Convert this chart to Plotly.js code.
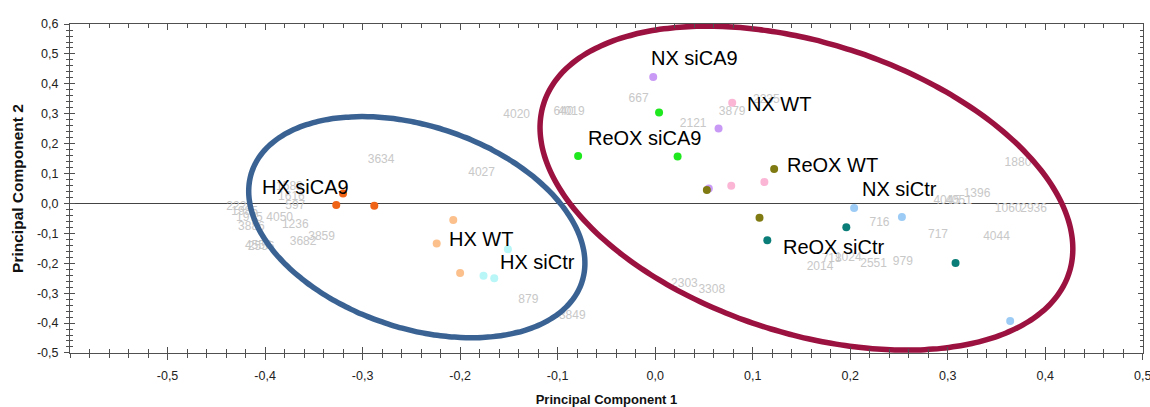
<!DOCTYPE html>
<html>
<head>
<meta charset="utf-8">
<script src="https://cdn.plot.ly/plotly-3.0.1.min.js"></script>
<style>html,body{margin:0;padding:0;background:#fff;}#chart{width:1150px;height:407px;}</style>
</head>
<body>
<div id="chart"></div>
<script>
// ---------- data ----------
const groups = ["HX siCA9","HX WT","HX siCtr","ReOX siCA9","NX siCA9","NX WT","ReOX WT","ReOX siCtr","NX siCtr"];
const groupColors = ["#F06418","#FBC08C","#B8F6F8","#1FE81F","#C99AF5","#FBB6D6","#7F7A12","#0B7D78","#9CCBF5"];
const pc1 = [
  [-0.327,-0.288,-0.320],
  [-0.207,-0.224,-0.200],
  [-0.151,-0.176,-0.165],
  [-0.079, 0.004, 0.023],
  [-0.002, 0.065, 0.055],
  [ 0.079, 0.078, 0.112],
  [ 0.122, 0.053, 0.107],
  [ 0.115, 0.196, 0.308],
  [ 0.204, 0.253, 0.364]
];
const pc2 = [
  [-0.005,-0.008, 0.033],
  [-0.055,-0.134,-0.233],
  [-0.153,-0.242,-0.250],
  [ 0.159, 0.304, 0.157],
  [ 0.423, 0.251, 0.050],
  [ 0.337, 0.059, 0.072],
  [ 0.115, 0.045,-0.048],
  [-0.123,-0.080,-0.199],
  [-0.015,-0.045,-0.393]
];
// group label anchors (left edge, middle)
const labelX = [-0.4037,-0.2126,-0.1603,-0.0704,-0.0054,0.0930,0.1337,0.1296,0.2110];
const labelY = [ 0.0535,-0.1194,-0.1953, 0.2184, 0.4849,0.3321,0.1291,-0.1472,0.0478];

// variable (loading) labels in grey
const varLabels = ["3634","4020","4027","640","4019","667","2121","3879","2235","716","717","4044","1880","1396","4045","4051","1060","2936","979","2551","718","1024","2014","2303","3308","879","3849","1583","1616","597","4050","1236","3682","3859","2225","1985","1975","3886","4556","2556"];
const varX = [-0.281,-0.142,-0.178,-0.094,-0.086,-0.017,0.039,0.079,0.114,0.230,0.290,0.350,0.372,0.330,0.299,0.311,0.362,0.388,0.254,0.224,0.181,0.198,0.169,0.030,0.058,-0.130,-0.085,-0.375,-0.373,-0.369,-0.385,-0.369,-0.361,-0.342,-0.426,-0.421,-0.416,-0.414,-0.407,-0.404];
const varY = [0.145,0.295,0.101,0.305,0.305,0.349,0.265,0.306,0.345,-0.064,-0.106,-0.112,0.134,0.031,0.009,0.009,-0.019,-0.017,-0.197,-0.201,-0.186,-0.181,-0.214,-0.270,-0.290,-0.322,-0.376,0.054,0.022,-0.010,-0.047,-0.073,-0.130,-0.112,-0.013,-0.030,-0.049,-0.080,-0.142,-0.147];

// cluster ellipses: centre (data units), semi-axes (px), tilt (deg, screen)
const ellipseCX = [-0.2444, 0.1551];
const ellipseCY = [-0.0793, 0.0512];
const ellipseA = [174, 276];
const ellipseB = [101, 145];
const ellipseTilt = [18.5, 17.9];
const ellipseColors = ["#3A6394","#9B1140"];

const xTickVals = [-0.5,-0.4,-0.3,-0.2,-0.1,0.0,0.1,0.2,0.3,0.4,0.5];
const xTickText = ["-0,5","-0,4","-0,3","-0,2","-0,1","0,0","0,1","0,2","0,3","0,4","0,5"];
const yTickVals = [-0.5,-0.4,-0.3,-0.2,-0.1,0.0,0.1,0.2,0.3,0.4,0.5,0.6];
const yTickText = ["-0,5","-0,4","-0,3","-0,2","-0,1","0,0","0,1","0,2","0,3","0,4","0,5","0,6"];

// ---------- layout constants ----------
const W = 1150, H = 407;
const M = {l:70, r:7, t:24, b:54};
const xRange = [-0.6, 0.5002], yRange = [-0.5002, 0.6002];
const pxPerX = (W - M.l - M.r) / (xRange[1]-xRange[0]);
const pxPerY = (H - M.t - M.b) / (yRange[1]-yRange[0]);
const FONT = "Liberation Sans, Arial, sans-serif";
const NARROW = "Liberation Sans Narrow, Arial Narrow, Liberation Sans, Arial, sans-serif";
const AX = "#505050";

const traces = [];
traces.push({
  x: varX, y: varY, text: varLabels, mode: "text", type: "scatter",
  textfont: {family: FONT, size: 12, color: "#C8C8C8"},
  hoverinfo: "skip", showlegend: false, cliponaxis: false
});
for (let e = 0; e < ellipseCX.length; e++) {
  const ex = [], ey = [];
  const th = ellipseTilt[e] * Math.PI / 180;
  for (let i = 0; i <= 180; i++) {
    const t = 2 * Math.PI * i / 180;
    const u = ellipseA[e] * Math.cos(t), v = ellipseB[e] * Math.sin(t);
    const dx = u * Math.cos(th) - v * Math.sin(th);
    const dy = u * Math.sin(th) + v * Math.cos(th); // screen, y down
    ex.push(ellipseCX[e] + dx / pxPerX);
    ey.push(ellipseCY[e] - dy / pxPerY);
  }
  traces.push({x: ex, y: ey, mode: "lines", type: "scatter",
    line: {color: ellipseColors[e], width: 5.5, shape: "spline"},
    hoverinfo: "skip", showlegend: false});
}
groups.forEach((g, i) => {
  traces.push({x: pc1[i], y: pc2[i], name: g, mode: "markers", type: "scatter",
    marker: {color: groupColors[i], size: 8}, showlegend: false});
});

const annotations = groups.map((g, i) => ({
  x: labelX[i], y: labelY[i], text: g, showarrow: false,
  xanchor: "left", yanchor: "middle", borderpad: 0,
  font: {family: FONT, size: 20, color: "#000"}
}));

const tickFont = {family: NARROW, size: 12.5, color: "#222"};
const layout = {
  width: W, height: H, margin: M,
  paper_bgcolor: "#fff", plot_bgcolor: "#fff",
  showlegend: false,
  xaxis: {
    range: xRange, tickmode: "array", tickvals: xTickVals, ticktext: xTickText,
    showgrid: false, zeroline: false, showline: true, linecolor: AX, linewidth: 1,
    ticks: "outside", ticklen: 6, tickcolor: AX, tickfont: tickFont, ticklabelstandoff: 5,
    ticklabeloverflow: "allow",
    minor: {tickmode: "linear", tick0: 0, dtick: 0.02, ticks: "outside", ticklen: 4, tickcolor: AX, showgrid: false},
    title: {text: "Principal Component 1", font: {family: FONT, size: 13, color: "#111", weight: "bold"}, standoff: 15},
    automargin: false, fixedrange: true
  },
  xaxis2: {
    overlaying: "x", anchor: "y", side: "bottom", range: xRange,
    tickmode: "array", tickvals: xTickVals, showticklabels: false,
    showgrid: false, zeroline: false, showline: true, linecolor: AX, linewidth: 1, mirror: "allticks",
    ticks: "inside", ticklen: 6, tickcolor: AX,
    minor: {tickmode: "linear", tick0: 0, dtick: 0.02, ticks: "inside", ticklen: 4, tickcolor: AX, showgrid: false},
    automargin: false, fixedrange: true
  },
  yaxis: {
    range: yRange, tickmode: "array", tickvals: yTickVals, ticktext: yTickText,
    showgrid: false, zeroline: true, zerolinecolor: "#444", zerolinewidth: 1,
    showline: true, linecolor: AX, linewidth: 1,
    ticks: "outside", ticklen: 5, tickcolor: AX, tickfont: tickFont, ticklabelstandoff: 3,
    ticklabeloverflow: "allow",
    minor: {tickmode: "linear", tick0: 0, dtick: 0.02, ticks: "outside", ticklen: 3, tickcolor: AX, showgrid: false},
    title: {text: "Principal Component 2", font: {family: FONT, size: 15.5, color: "#111", weight: "bold"}, standoff: 9},
    automargin: false, fixedrange: true
  },
  yaxis2: {
    overlaying: "y", anchor: "x", side: "left", range: yRange,
    tickmode: "array", tickvals: yTickVals, showticklabels: false,
    showgrid: false, zeroline: false, showline: true, linecolor: AX, linewidth: 1, mirror: "allticks",
    ticks: "inside", ticklen: 5, tickcolor: AX,
    minor: {tickmode: "linear", tick0: 0, dtick: 0.02, ticks: "inside", ticklen: 3, tickcolor: AX, showgrid: false},
    automargin: false, fixedrange: true
  },
  annotations: annotations
};
// dummy trace to activate overlay axes
traces.push({x: [null], y: [null], xaxis: "x2", yaxis: "y2", mode: "markers", showlegend: false, hoverinfo: "skip"});

Plotly.newPlot("chart", traces, layout, {displayModeBar: false, staticPlot: true});
</script>
</body>
</html>
